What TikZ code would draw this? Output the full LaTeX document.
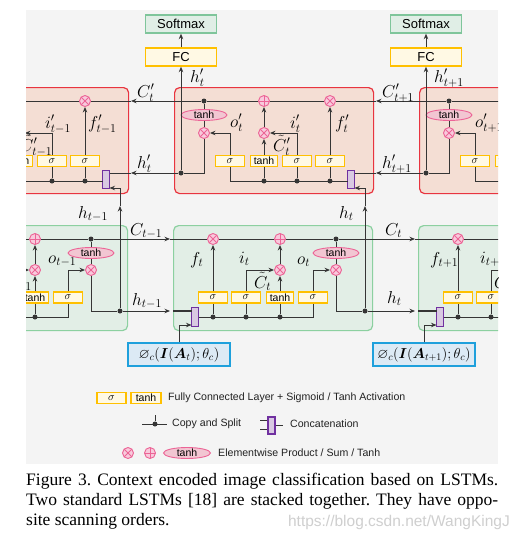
\documentclass[tikz,border=0pt]{standalone}
\usepackage{amssymb}
\usepackage{bm}
\usepackage{fontspec}
\setmainfont{Liberation Serif}
\newfontfamily\arialf{Liberation Sans}
\DeclareMathSizes{17}{17}{13}{10}
\usetikzlibrary{arrows.meta,shapes.geometric}
\definecolor{lc}{HTML}{353535}
\definecolor{bgc}{HTML}{F4F4F4}
\definecolor{redb}{HTML}{E8343F}
\definecolor{redf}{HTML}{F4DED4}
\definecolor{greenb}{HTML}{8CD0A0}
\definecolor{greenf}{HTML}{E2EEE6}
\definecolor{gold}{HTML}{FFC000}
\definecolor{cream}{HTML}{FFF9E4}
\definecolor{smf}{HTML}{E0EEE6}
\definecolor{smb}{HTML}{7FC59B}
\definecolor{pinkb}{HTML}{EC6496}
\definecolor{pinkf}{HTML}{F8CADC}
\definecolor{pinkt}{HTML}{F2C6D2}
\definecolor{purp}{HTML}{7030A0}
\definecolor{purpf}{HTML}{D9C9E2}
\definecolor{phibc}{HTML}{1EA0DC}
\definecolor{phif}{HTML}{DCEAF5}
\definecolor{lt}{HTML}{222222}
\definecolor{wmc}{HTML}{CFCFCF}
\begin{document}
\begin{tikzpicture}[x=1pt,y=-1pt,
  ln/.style={draw=lc,line width=0.9pt},
  arr/.style={ln,-{Stealth[length=5.5pt,width=4.5pt]}},
  redcell/.style={draw=redb,fill=redf,rounded corners=5pt,line width=1.2pt,minimum width=199pt,minimum height=106pt,inner sep=0pt,anchor=north west},
  greencell/.style={draw=greenb,fill=greenf,rounded corners=5pt,line width=1.2pt,minimum width=199pt,minimum height=105pt,inner sep=0pt,anchor=north west},
  gbox/.style={draw=gold,fill=cream,line width=1.4pt,minimum width=29pt,minimum height=11pt,inner sep=0pt,font=\fontsize{10.5}{10.5}\selectfont},
  tbox/.style={gbox,minimum width=27pt,font=\arialf\fontsize{10.5}{10.5}\selectfont},
  opbase/.style={circle,draw=pinkb,fill=pinkf,line width=0.9pt,minimum size=11pt,inner sep=0pt},
  opx/.style={opbase,path picture={\draw[pinkb,line width=0.9pt]
       ([shift={(-3.9pt,-3.9pt)}]path picture bounding box.center) -- ([shift={(3.9pt,3.9pt)}]path picture bounding box.center)
       ([shift={(-3.9pt,3.9pt)}]path picture bounding box.center) -- ([shift={(3.9pt,-3.9pt)}]path picture bounding box.center);}},
  opp/.style={opbase,path picture={\draw[pinkb,line width=0.9pt]
       ([shift={(-5.5pt,0pt)}]path picture bounding box.center) -- ([shift={(5.5pt,0pt)}]path picture bounding box.center)
       ([shift={(0pt,-5.5pt)}]path picture bounding box.center) -- ([shift={(0pt,5.5pt)}]path picture bounding box.center);}},
  tanhE/.style={ellipse,draw=pinkb,fill=pinkt,line width=0.9pt,minimum width=46pt,minimum height=11pt,inner sep=0pt,text height=7pt,text depth=0pt,font=\arialf\fontsize{10.5}{10.5}\selectfont},
  cat/.style={draw=purp,fill=purpf,line width=1.2pt,minimum width=7pt,minimum height=18pt,inner sep=0pt},
  dot/.style={circle,fill=lc,minimum size=5pt,inner sep=0pt},
  lbl/.style={inner sep=0pt,anchor=base west,font=\fontsize{17}{17}\selectfont},
  topbox/.style={minimum width=71pt,minimum height=18pt,inner sep=0pt,line width=1.4pt,font=\arialf\fontsize{13}{13}\selectfont},
  phibox/.style={draw=phibc,fill=phif,line width=1.4pt,minimum width=102pt,minimum height=23pt,inner sep=0pt,font=\fontsize{14}{14}\selectfont},
  legt/.style={anchor=west,inner sep=0pt,font=\arialf\fontsize{10.6}{10.6}\selectfont,text=lt}
]
\useasboundingbox (0,0) rectangle (515,550);
\fill[white] (0,0) rectangle (515,550);
\begin{scope}
\clip (26,10) rectangle (498,464);
\fill[bgc] (26,10) rectangle (498,464);
% ---------- top (backward) LSTM cells ----------
\foreach \k/\x in {0/-71,1/174,2/419}{
  \node[redcell] (r\k) at (\x,87) {};
  \node[opx] (r\k-xf) at (\x+156,101) {};
  \node[opp] (r\k-pl) at (\x+90,101) {};
  \node[dot] (r\k-d) at (\x+30,101) {};
  \node[tanhE] (r\k-th) at (\x+30,115) {tanh};
  \node[opx] (r\k-xo) at (\x+30,133) {};
  \node[opx] (r\k-xi) at (\x+90,133) {};
  \node[gbox] (r\k-so) at (\x+56,161) {$\sigma$};
  \node[tbox] (r\k-tb) at (\x+90,161) {tanh};
  \node[gbox] (r\k-si) at (\x+123,161) {$\sigma$};
  \node[gbox] (r\k-sf) at (\x+156,161) {$\sigma$};
  \node[cat] (r\k-cat) at (\x+177,179.5) {};
  \node[dot] (r\k-d1) at (\x+90,181) {};
  \node[dot] (r\k-d2) at (\x+123,181) {};
  \node[dot] (r\k-d3) at (\x+156,181) {};
  \coordinate (r\k-o1) at (\x+30,173);
  \node[dot] (r\k-od) at (\x+7,173) {};
  \coordinate (r\k-cin) at (\x+202,101);
  \coordinate (r\k-hin) at (\x+202,173);
  \coordinate (r\k-catr) at (\x+180.5,173);
  \coordinate (r\k-catb) at (\x+180.5,188);
  \coordinate (r\k-catl) at (\x+173.5,181);
  \node[topbox,draw=gold,fill=cream] (r\k-fc) at (\x+7,57) {FC};
  \node[topbox,draw=smb,fill=smf] (r\k-sm) at (\x+7,24) {Softmax};
  % internal connectors
  \draw[ln] (r\k-catl) -| (r\k-so);
  \draw[ln] (r\k-d1) -- (r\k-tb);
  \draw[ln] (r\k-d2) -- (r\k-si);
  \draw[ln] (r\k-d3) -- (r\k-sf);
  \draw[arr] (r\k-sf) -- (r\k-xf);
  \draw[arr] (r\k-tb) -- (r\k-xi);
  \draw[arr] (r\k-xi) -- (r\k-pl);
  \draw[arr] (r\k-si) |- (r\k-xi);
  \draw[arr] (r\k-so) |- (r\k-xo);
  \draw[ln] (r\k-d) -- (r\k-th);
  \draw[ln] (r\k-th) -- (r\k-xo);
  \draw[ln] (r\k-xo) -- (r\k-o1) -- (r\k-od);
  \draw[ln] (r\k-cin) -- (r\k-xf) -- (r\k-pl) -- (r\k-d);
  \draw[ln] (r\k-hin) -- (r\k-catr);
  \draw[arr] (r\k-od) -- (r\k-fc);
  \draw[arr] (r\k-fc) -- (r\k-sm);
}
\foreach \k/\j in {1/0,2/1}{
  \draw[arr] (r\k-d) -- (r\j-cin);
  \draw[arr] (r\k-od) -- (r\j-hin);
}
% ---------- bottom (forward) LSTM cells ----------
\foreach \k/\x/\s in {0/-72/{t-1},1/173/{t},2/418/{t+1}}{
  \node[greencell] (g\k) at (\x,225) {};
  \node[opx] (g\k-xf) at (\x+40,239) {};
  \node[opp] (g\k-pl) at (\x+107,239) {};
  \node[dot] (g\k-d) at (\x+163,239) {};
  \node[tanhE] (g\k-th) at (\x+163,253) {tanh};
  \node[opx] (g\k-xo) at (\x+163,270) {};
  \node[opx] (g\k-xi) at (\x+107,270) {};
  \node[gbox] (g\k-sf) at (\x+40,297.5) {$\sigma$};
  \node[gbox] (g\k-si) at (\x+73,297.5) {$\sigma$};
  \node[tbox] (g\k-tb) at (\x+107,297.5) {tanh};
  \node[gbox] (g\k-so) at (\x+140,297.5) {$\sigma$};
  \node[cat,minimum height=19pt] (g\k-cat) at (\x+22,317) {};
  \node[dot] (g\k-d1) at (\x+40,317) {};
  \node[dot] (g\k-d2) at (\x+73,317) {};
  \node[dot] (g\k-d3) at (\x+107,317) {};
  \coordinate (g\k-catr) at (\x+25.5,317);
  \coordinate (g\k-catl) at (\x+18.5,311);
  \coordinate (g\k-catlb) at (\x+18.5,325);
  \coordinate (g\k-o1) at (\x+163,311);
  \node[dot] (g\k-hd) at (\x+192,311) {};
  \coordinate (g\k-hup) at (\x+192,206);
  \coordinate (g\k-cin) at (\x-3,239);
  \coordinate (g\k-hin) at (\x-3,311);
  \coordinate (g\k-edge) at (\x,311);
  \node[phibox] (g\k-phi) at (\x+6,354.5) {$\varnothing_c(\bm{I}(\bm{A}_{\s});\theta_c)$};
  % internal connectors
  \draw[ln] (g\k-catr) -| (g\k-so);
  \draw[ln] (g\k-d1) -- (g\k-sf);
  \draw[ln] (g\k-d2) -- (g\k-si);
  \draw[ln] (g\k-d3) -- (g\k-tb);
  \draw[arr] (g\k-sf) -- (g\k-xf);
  \draw[arr] (g\k-si) |- (g\k-xi);
  \draw[arr] (g\k-tb) -- (g\k-xi);
  \draw[arr] (g\k-xi) -- (g\k-pl);
  \draw[arr] (g\k-so) |- (g\k-xo);
  \draw[ln] (g\k-d) -- (g\k-th);
  \draw[ln] (g\k-th) -- (g\k-xo);
  \draw[ln] (g\k-xo) -- (g\k-o1) -- (g\k-hd);
  \draw[ln] (g\k-cin) -- (g\k-xf) -- (g\k-pl) -- (g\k-d);
  \draw[ln,line width=2.2pt] (g\k-edge) -- (g\k-catl);
  \draw[arr] (g\k-phi) |- (g\k-catlb);
  \draw[arr] (g\k-hd) -- (g\k-hup);
  \draw[arr] (g\k-hup) |- (r\k-catb);
}
\foreach \k/\j in {0/1,1/2}{
  \draw[arr] (g\k-d) -- (g\j-cin);
  \draw[arr] (g\k-hd) -- (g\j-hin);
}
% ---------- labels ----------
\node[lbl] (l1) at (137,97) {$C'_t$};
\node[lbl] (l2) at (137,168) {$h'_t$};
\node[lbl] (l3) at (190,82) {$h'_t$};
\node[lbl] (l4) at (382,97) {$C'_{t+1}$};
\node[lbl] (l5) at (382,168) {$h'_{t+1}$};
\node[lbl] (l6) at (434,82) {$h'_{t+1}$};
\node[lbl] (l7) at (230,127) {$o'_t$};
\node[lbl] (l8) at (475,127) {$o'_{t+1}$};
\node[lbl] (l9) at (290,128) {$i'_t$};
\node[lbl] (l10) at (45,128) {$i'_{t-1}$};
\node[lbl] (l11) at (273,151) {$\tilde{C}'_t$};
\node[lbl] (l12) at (20,151) {$\tilde{C}'_{t-1}$};
\node[lbl] (l13) at (335,128) {$f'_t$};
\node[lbl] (l14) at (88,128) {$f'_{t-1}$};
\node[lbl] (l15) at (78,218) {$h_{t-1}$};
\node[lbl] (l16) at (339,218) {$h_t$};
\node[lbl] (l17) at (130,235) {$C_{t-1}$};
\node[lbl] (l18) at (385,235) {$C_t$};
\node[lbl] (l19) at (132,305) {$h_{t-1}$};
\node[lbl] (l20) at (387,303) {$h_t$};
\node[lbl] (l21) at (190,264) {$f_t$};
\node[lbl] (l22) at (239,263) {$i_t$};
\node[lbl] (l23) at (254,288) {$\tilde{C}_t$};
\node[lbl] (l24) at (297,264) {$o_t$};
\node[lbl] (l25) at (48,263) {$o_{t-1}$};
\node[lbl] (l26) at (430,264) {$f_{t+1}$};
\node[lbl] (l27) at (480,263) {$i_{t+1}$};
\node[lbl] (l28) at (494,288) {$\tilde{C}_{t+1}$};
\node[lbl,anchor=base east] (l29) at (32,288) {$\tilde{C}_{t-1}$};
% ---------- legend ----------
\node[gbox] (lg-s) at (111.5,398) {$\sigma$};
\node[tbox,minimum width=30pt] (lg-t) at (146,398) {tanh};
\node[legt] (lg-t1) at (168,398) {Fully Connected Layer + Sigmoid / Tanh Activation};
\coordinate (lc-a) at (142,424);
\coordinate (lc-b) at (167,424);
\node[dot] (lc-d) at (155,424) {};
\coordinate (lc-up) at (155,415);
\draw[ln] (lc-a) -- (lc-b);
\draw[ln] (lc-d) -- (lc-up);
\node[legt] (lg-t2) at (172,424) {Copy and Split};
\node[cat,minimum height=17pt] (lk-c) at (271.5,425.5) {};
\coordinate (lk-a1) at (260,420.5);
\coordinate (lk-a2) at (260,429.5);
\coordinate (lk-b) at (283,425.5);
\draw[ln] (lk-a1) -- (lk-a1 -| lk-c.west);
\draw[ln] (lk-a2) -- (lk-a2 -| lk-c.west);
\draw[ln] (lk-c.east) -- (lk-b);
\node[legt] (lg-t3) at (290,424) {Concatenation};
\node[opx] (lg-x) at (128,453) {};
\node[opp] (lg-p) at (150,453) {};
\node[tanhE,minimum width=47pt] (lg-e) at (187,453) {tanh};
\node[legt] (lg-t4) at (218,453) {Elementwise Product / Sum / Tanh};
\end{scope}
% ---------- caption ----------
\node[anchor=base west,inner sep=0pt] (cap) at (26,485) {\parbox[t]{472pt}{\fontsize{17.5}{20}\selectfont\frenchspacing Figure 3. Context encoded image classification based on LSTMs.\linebreak Two standard LSTMs [18] are stacked together. They have oppo-\linebreak site scanning orders.}};
\node[anchor=base east,inner sep=0pt,text=wmc,font=\arialf\fontsize{15.5}{15.5}\selectfont] (wm) at (510,526) {https://blog.csdn.net/WangKingJ};
\end{tikzpicture}
\end{document}
